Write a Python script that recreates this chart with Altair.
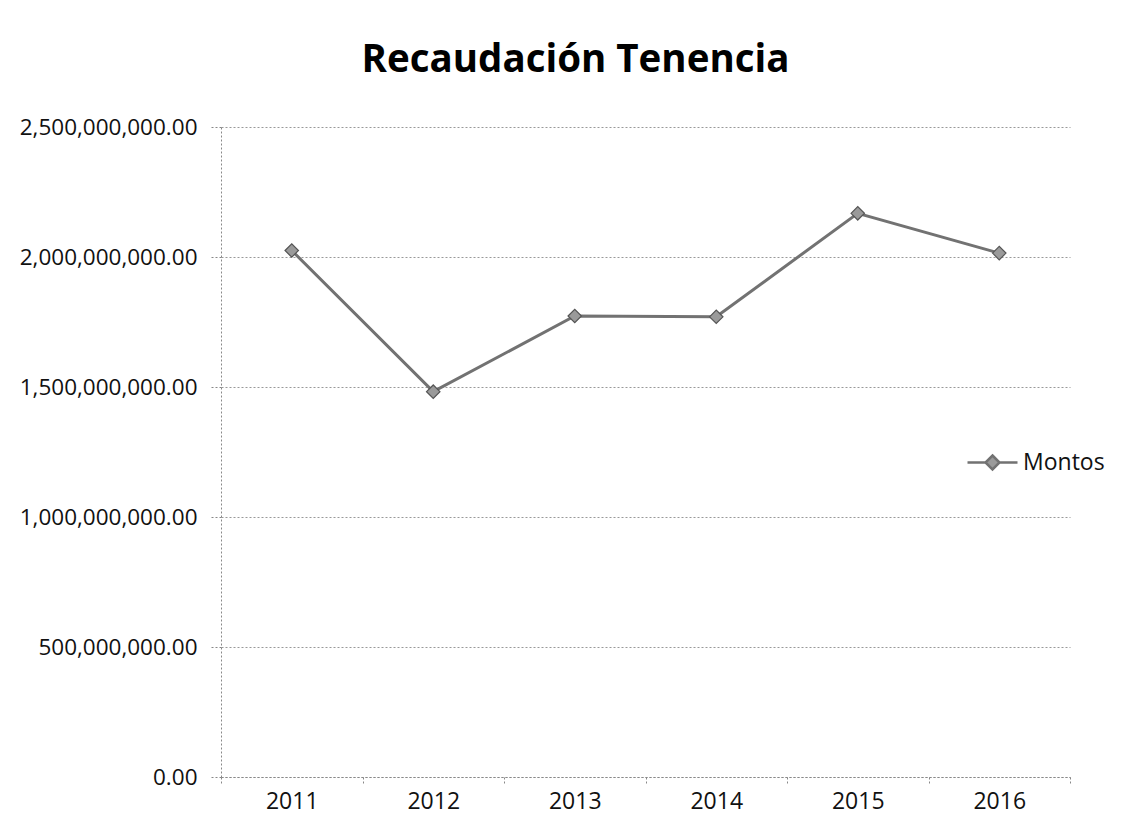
import altair as alt
import pandas as pd

years = ["2011", "2012", "2013", "2014", "2015", "2016"]
montos = [2025000000, 1482000000, 1773000000, 1770000000, 2168000000, 2015000000]
series = ["Montos"] * len(years)

df = pd.DataFrame({"Año": years, "Monto": montos, "Serie": series})

FONT = "Open Sans"

x = alt.X("Año:N", sort=years, title=None,
          scale=alt.Scale(type="band", paddingInner=0, paddingOuter=0),
          axis=alt.Axis(labelAngle=0, tickBand="extent", tickSize=7, labelPadding=6,
                        domainColor="#888", domainDash=[2, 2], tickColor="#888", tickDash=[2, 2],
                        labelFontSize=23, labelFont=FONT, labelColor="#111", grid=False))
y = alt.Y("Monto:Q", title=None,
          scale=alt.Scale(domain=[0, 2500000000], nice=False),
          axis=alt.Axis(values=[0, 500000000, 1000000000, 1500000000, 2000000000, 2500000000],
                        format=",.2f", tickSize=10, labelPadding=14, labelLimit=400,
                        domainColor="#888", domainDash=[2, 2], tickColor="#888", tickDash=[2, 2],
                        gridColor="#999", gridDash=[2, 2], gridWidth=1,
                        labelFontSize=22.5, labelFont=FONT, labelColor="#111"))

color = alt.Color("Serie:N", title=None,
                  scale=alt.Scale(domain=["Montos"], range=["#727272"]),
                  legend=alt.Legend(orient="none", legendX=745, legendY=309,
                                    symbolType="M-1,0L-0.28,0M0.28,0L1,0M0,-0.28L0.28,0L0,0.28L-0.28,0Z",
                                    symbolSize=2500, symbolStrokeWidth=2.5,
                                    symbolFillColor="#9a9a9a", symbolStrokeColor="#666",
                                    labelFontSize=23, labelFont=FONT, labelColor="#111",
                                    labelOffset=4))

line = alt.Chart(df).mark_line(strokeWidth=3).encode(x=x, y=y, color=color)
pts = alt.Chart(df).mark_point(shape="diamond", size=180, filled=True, fill="#9a9a9a",
                                stroke="#555", strokeWidth=1.2, opacity=1).encode(x=x, y=y)

chart = alt.layer(line, pts).properties(
    width=849, height=650,
    padding={"left": 213, "top": 119, "right": 60, "bottom": 40},
    autosize=alt.AutoSizeParams(type="none"),
    title=alt.TitleParams("Recaudación Tenencia", fontSize=38.5, font=FONT, fontWeight="bold",
                          color="#000", anchor="middle", dx=-70, offset=36),
).configure_view(stroke=None)

chart.save("out.html", embed_options={"renderer": "svg", "actions": False})
